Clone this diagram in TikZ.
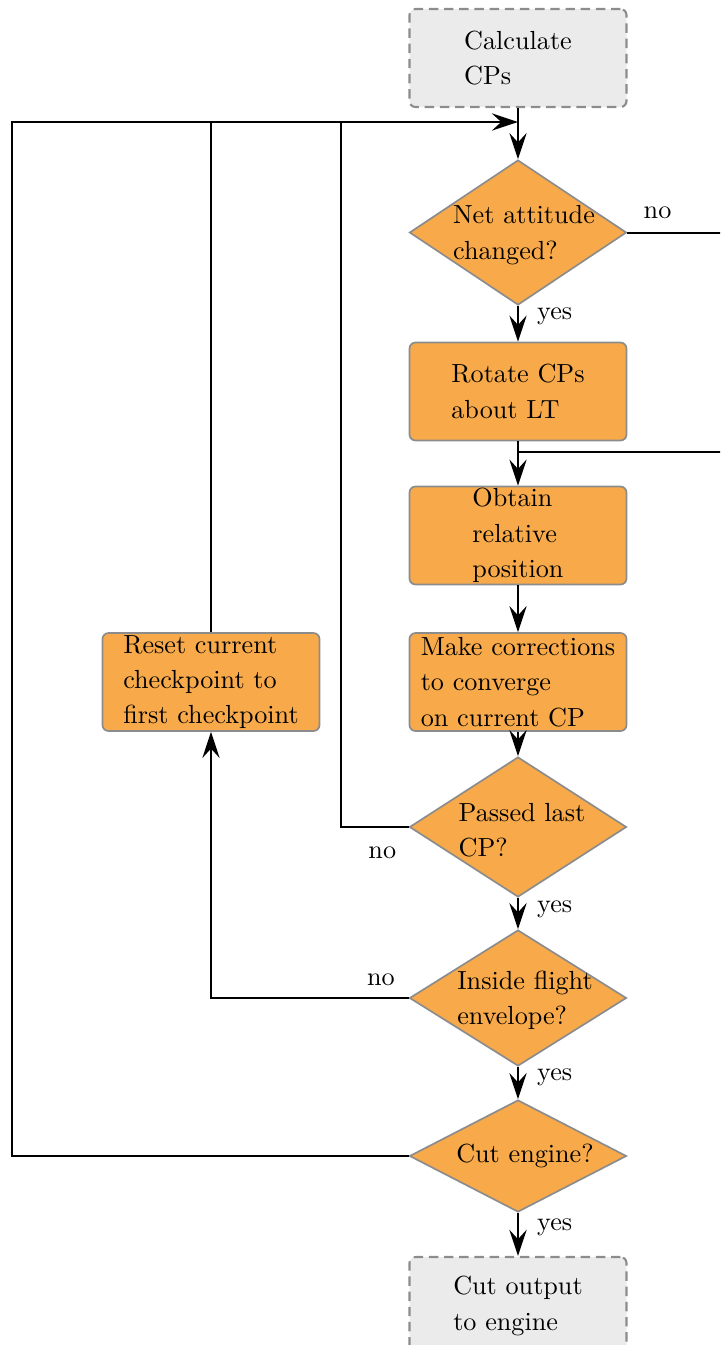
\documentclass[tikz,border=0pt]{standalone}
\usetikzlibrary{arrows.meta,shapes.geometric}

\definecolor{stepfill}{RGB}{248,170,74}
\definecolor{edgegray}{RGB}{140,140,140}
\definecolor{termfill}{RGB}{235,235,235}

% one drawing unit = one grid step of the layout
\def\px{0.382pt}

\tikzset{
  process/.style={rectangle, rounded corners=2.3pt, draw=edgegray, line width=0.65pt,
    fill=stepfill, minimum width=217*\px, minimum height=98*\px, align=left, inner sep=0pt},
  terminal/.style={process, fill=termfill, dash pattern=on 3.6pt off 2.2pt, line width=0.8pt},
  decision/.style={diamond, draw=edgegray, line width=0.65pt, fill=stepfill,
    minimum width=217*\px, inner sep=0pt},
  dtext/.style={align=left, inner sep=0pt},
  flow/.style={line width=0.76pt, black},
  arrow/.style={flow, -{Stealth[length=10pt,width=6.6pt,inset=3.6pt]}},
  lbl/.style={inner sep=0pt}
}

\begin{document}
\begin{tikzpicture}[x=\px, y=-\px, font=\fontsize{10}{13.5}\selectfont]
  \useasboundingbox (0,0) rectangle (720,1345);
  \clip (0,0) rectangle (720,1345);

  % main column
  \node[terminal] (calc) at (518,58) {Calculate\\CPs};
  \node[decision, minimum height=145*\px] (d1) at (518,232.5) {};
  \node[dtext] (d1t) at (524,235) {Net attitude\\changed?};
  \node[process] (rot) at (518,391.5) {Rotate CPs\\about LT};
  \node[process] (obt) at (518,535.5) {Obtain\\relative\\position};
  \node[process] (mk) at (518,682) {Make corrections\\to converge\\on current CP};
  \node[decision, minimum height=140*\px] (d2) at (518,827) {};
  \node[dtext] (d2t) at (522,830) {Passed last\\CP?};
  \node[decision, minimum height=136*\px] (d3) at (518,998) {};
  \node[dtext] (d3t) at (525,1000) {Inside flight\\envelope?};
  \node[decision, minimum height=112*\px] (d4) at (518,1156) {};
  \node[dtext] (d4t) at (525,1156) {Cut engine?};
  \node[terminal] (out) at (518,1306) {Cut output\\to engine};

  % side step
  \node[process] (reset) at (211,682) {Reset current\\checkpoint to\\first checkpoint};

  % junction points
  \coordinate (m) at (518,122);
  \coordinate (tl) at (12,122);
  \coordinate (c2) at (341,122);
  \coordinate (c3) at (211,122);
  \coordinate (j1) at (518,452);
  \coordinate (eR1) at (750,232.5);
  \coordinate (eR2) at (750,452);

  % connectors
  \draw[arrow] (calc.south) -- (d1.north);
  \draw[arrow] (d1.south) -- node[lbl, pos=0.3, xshift=14pt] (y1) {yes} (rot.north);
  \draw[flow] (d1.east) -- node[lbl, pos=0.246, yshift=7.7pt] (n1) {no} (eR1) -- (eR2) -- (j1);
  \draw[arrow] (rot.south) -- (obt.north);
  \draw[arrow] (obt.south) -- (mk.north);
  \draw[arrow] (mk.south) -- (d2.north);
  \draw[flow] (d2.west) -- node[lbl, pos=0.39, yshift=-10pt] (n2) {no} (d2.west -| c2) -- (c2);
  \draw[arrow] (d2.south) -- node[lbl, pos=0.36, xshift=14pt] (y2) {yes} (d3.north);
  \draw[arrow] (d3.west) -- node[lbl, pos=0.14, yshift=7pt] (n3) {no} (d3.west -| reset.south) -- (reset.south);
  \draw[flow] (reset.north) -- (c3);
  \draw[arrow] (d3.south) -- node[lbl, pos=0.32, xshift=14pt] (y3) {yes} (d4.north);
  \draw[arrow] (d4.west) -- (d4.west -| tl) -- (tl) -- (m);
  \draw[arrow] (d4.south) -- node[lbl, pos=0.33, xshift=14pt] (y4) {yes} (out.north);
\end{tikzpicture}
\end{document}
